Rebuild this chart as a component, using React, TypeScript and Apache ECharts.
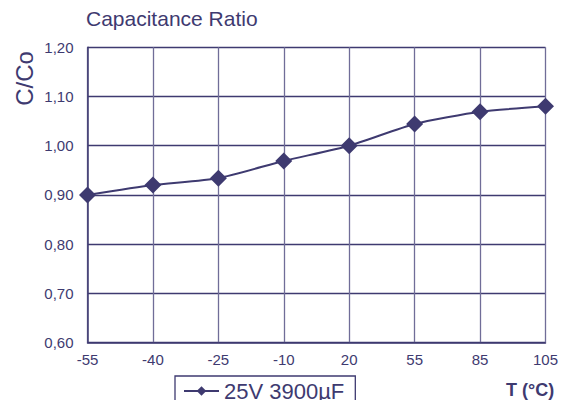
import React, { useEffect, useRef } from "react";
import * as echarts from "echarts";

const categories = ["-55", "-40", "-25", "-10", "20", "55", "85", "105"];
const ratioValues = [0.9, 0.92, 0.934, 0.969, 1.0, 1.044, 1.069, 1.08];
const seriesName = "25V 3900µF";
const titleText = "Capacitance Ratio";
const yAxisName = "C/Co";
const xAxisName = "T (°C)";

const INK = "#3e3a70";
const FONT = "Liberation Sans, Arial, sans-serif";

export default function App() {
  const ref = useRef<HTMLDivElement>(null);
  useEffect(() => {
    if (!ref.current) return;
    document.body.style.margin = "0";
    const chart = echarts.init(ref.current, null, { renderer: "svg" });
    chart.setOption({
      animation: false,
      backgroundColor: "#ffffff",
      textStyle: { fontFamily: FONT },
      title: {
        text: titleText,
        left: 86,
        top: 8,
        padding: 0,
        textStyle: { color: INK, fontSize: 21, fontWeight: "normal", fontFamily: FONT },
      },
      grid: { left: 87.5, right: 11.5, top: 47.3, bottom: 57.5, containLabel: false },
      xAxis: {
        type: "category",
        data: categories,
        boundaryGap: false,
        axisLine: { show: true, lineStyle: { color: INK, width: 1.5 } },
        axisTick: { show: false },
        axisLabel: { color: INK, fontSize: 15, margin: 9, fontFamily: FONT },
        splitLine: { show: true, lineStyle: { color: "#706d98", width: 1.3 } },
      },
      yAxis: {
        type: "value",
        min: 0.6,
        max: 1.2,
        interval: 0.1,
        axisLine: { show: true, lineStyle: { color: INK, width: 1.5 } },
        axisTick: { show: false },
        axisLabel: {
          color: INK,
          fontSize: 15,
          margin: 14,
          fontFamily: FONT,
          formatter: (v: number) => v.toFixed(2).replace(".", ","),
        },
        splitLine: { show: true, lineStyle: { color: INK, width: 1.3 } },
      },
      legend: {
        show: true,
        left: 175,
        top: 376,
        itemWidth: 35,
        itemHeight: 12,
        padding: [4, 11, 8, 8],
        borderColor: INK,
        borderWidth: 1.3,
        textStyle: { color: INK, fontSize: 22, fontFamily: FONT },
        data: [seriesName],
      },
      series: [
        {
          name: seriesName,
          type: "line",
          data: ratioValues,
          smooth: 0.2,
          symbol: "diamond",
          symbolSize: 17,
          lineStyle: { color: INK, width: 2 },
          itemStyle: { color: INK },
        },
      ],
      graphic: [
        {
          type: "text",
          x: 506,
          y: 389.5,
          style: {
            text: xAxisName,
            fill: INK,
            font: `bold 18px ${FONT}`,
            verticalAlign: "middle",
          },
        },
        {
          type: "text",
          x: 24.5,
          y: 78.5,
          rotation: Math.PI / 2,
          style: {
            text: yAxisName,
            fill: INK,
            font: `24px ${FONT}`,
            align: "center",
            verticalAlign: "middle",
          },
        },
      ],
    });
    return () => chart.dispose();
  }, []);
  return <div ref={ref} style={{ width: 561, height: 400 }} />;
}
